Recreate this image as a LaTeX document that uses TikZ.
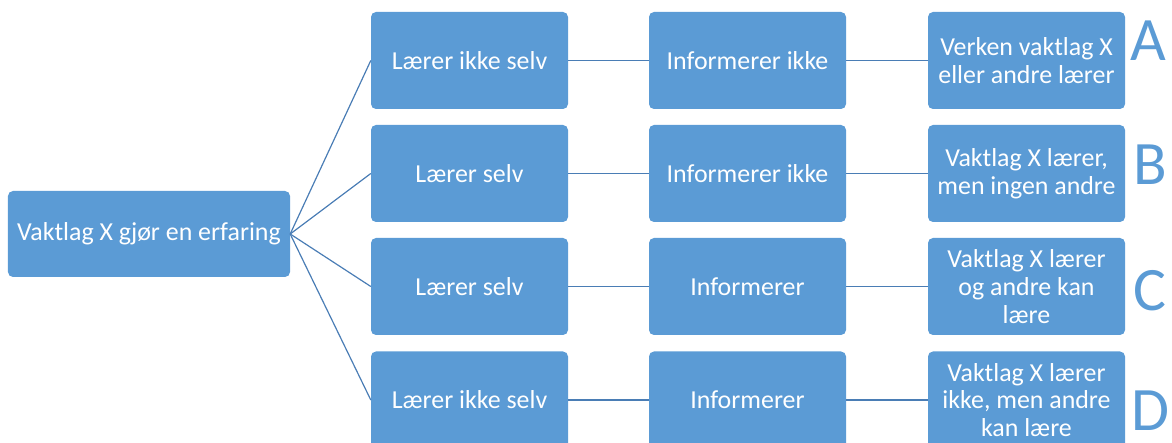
\documentclass[tikz,border=0pt]{standalone}
\usepackage{fontspec}
\setmainfont{Carlito}
\usetikzlibrary{positioning}
\definecolor{boxblue}{HTML}{5B9BD5}
\definecolor{lineblue}{HTML}{4A7DB5}
\tikzset{
  blk/.style={fill=boxblue, rounded corners=5pt, align=center, text=white,
              font=\fontsize{26}{28}\selectfont, minimum width=197bp,
              minimum height=97bp, inner sep=2pt},
  rootblk/.style={blk, minimum width=282bp, minimum height=86bp},
  lnk/.style={draw=lineblue, line width=1.2bp},
  tag/.style={text=boxblue, font=\fontsize{62}{62}\selectfont, inner sep=0pt},
}
\begin{document}
\begin{tikzpicture}[x=1bp,y=-1bp]
        \useasboundingbox (0,0) rectangle (1172,443);
        \clip (0,0) rectangle (1172,443);
        \node[rootblk](v) at (149,234){Vaktlag X gjør en erfaring};
        % rad A
        \node[blk](a1) at (469.5,60.5){Lærer ikke selv};
        \node[blk](a2) at (747.5,60.5){Informerer ikke};
        \node[blk](a3) at (1026.5,60.5){Verken vaktlag X\\eller andre lærer};
        % rad B
        \node[blk](b1) at (469.5,173.5){Lærer selv};
        \node[blk](b2) at (747.5,173.5){Informerer ikke};
        \node[blk](b3) at (1026.5,173.5){Vaktlag X lærer,\\men ingen andre};
        % rad C
        \node[blk](c1) at (469.5,286.5){Lærer selv};
        \node[blk](c2) at (747.5,286.5){Informerer};
        \node[blk](c3) at (1026.5,286.5){Vaktlag X lærer\\og andre kan\\lære};
        % rad D
        \node[blk](d1) at (469.5,400){Lærer ikke selv};
        \node[blk](d2) at (747.5,400){Informerer};
        \node[blk](d3) at (1026.5,400){Vaktlag X lærer\\ikke, men andre\\kan lære};
        \node[tag](ta) at (1148,41){A};
        \node[tag](tb) at (1150,165){B};
        \node[tag](tc) at (1150,291){C};
        \node[tag](td) at (1150,411){D};
        \foreach \r in {a,b,c,d}{
          \draw[lnk](v.east)--(\r1.west);
          \draw[lnk](\r1)--(\r2); \draw[lnk](\r2)--(\r3);
        }
      \end{tikzpicture}
\end{document}
